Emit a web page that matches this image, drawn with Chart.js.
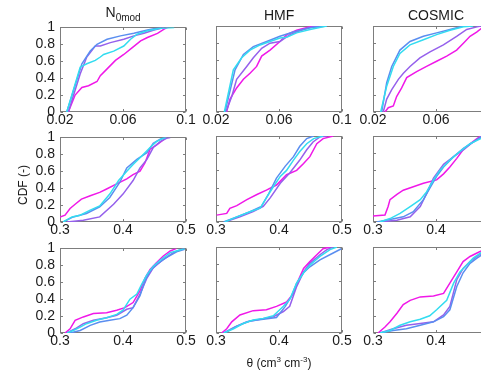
<!DOCTYPE html>
<html>
<head>
<meta charset="utf-8">
<script src="https://cdn.jsdelivr.net/npm/chart.js@4/dist/chart.umd.min.js"></script>
<style>
  html,body{margin:0;padding:0;background:#fff;}
  #wrap{position:relative;width:481px;height:377px;overflow:hidden;background:#fff;font-family:"Liberation Sans",Arial,sans-serif;color:#1a1a1a;}
  canvas{position:absolute;}
  .lbl{position:absolute;white-space:nowrap;}
</style>
</head>
<body>
<div id="wrap"></div>
<script>
// ---------- data ----------
const columnTitles = ['N', 'HMF', 'COSMIC'];
const yLabel = 'CDF (-)';
const xLabel = 'θ (cm³ cm⁻³)';
const yTicks = [0, 0.2, 0.4, 0.6, 0.8, 1];
const xTicksTop = [0.02, 0.06, 0.1];
const xTicksLow = [0.3, 0.4, 0.5];
const seriesColors = ['#33dcf0', '#5a8ef0', '#9560ec', '#f018e8']; // cyan, blue, violet, magenta

// Row 1 (top), column 1: N0mod
const r1c1_cyan    = [[0.0243,0],[0.0328,0.53],[0.037,0.57],[0.0424,0.61],[0.0456,0.65],[0.0477,0.68],[0.0541,0.72],[0.0605,0.78],[0.0648,0.86],[0.069,0.92],[0.0755,0.96],[0.084,0.99],[0.0925,1]];
const r1c1_blue    = [[0.0243,0],[0.0339,0.57],[0.0392,0.72],[0.0435,0.8],[0.0499,0.86],[0.0584,0.9],[0.0669,0.93],[0.0755,0.97],[0.084,1]];
const r1c1_violet  = [[0.0253,0],[0.0328,0.45],[0.037,0.65],[0.0424,0.78],[0.0456,0.78],[0.052,0.82],[0.0605,0.86],[0.0669,0.9],[0.0733,0.93],[0.0797,0.97],[0.0861,1]];
const r1c1_magenta = [[0.0253,0],[0.0296,0.2],[0.0339,0.29],[0.0381,0.31],[0.0435,0.36],[0.0456,0.43],[0.0499,0.51],[0.0552,0.61],[0.0605,0.68],[0.0659,0.76],[0.0712,0.84],[0.0755,0.88],[0.0819,0.93],[0.0861,0.98],[0.0883,1]];
// Row 1, column 2: HMF
const r1c2_cyan    = [[0.0253,0],[0.031,0.49],[0.0363,0.63],[0.0416,0.72],[0.048,0.78],[0.0543,0.82],[0.0606,0.86],[0.0649,0.87],[0.0712,0.92],[0.0797,0.96],[0.0903,1]];
const r1c2_blue    = [[0.0257,0],[0.0321,0.49],[0.0374,0.67],[0.0437,0.76],[0.0522,0.82],[0.0606,0.88],[0.0691,0.93],[0.0797,0.98],[0.0903,1]];
const r1c2_violet  = [[0.0263,0],[0.03,0.18],[0.0331,0.38],[0.0395,0.53],[0.0437,0.63],[0.049,0.74],[0.0543,0.8],[0.0606,0.82],[0.067,0.9],[0.0755,0.96],[0.0818,0.99],[0.088,1]];
const r1c2_magenta = [[0.0267,0],[0.0289,0.15],[0.0331,0.28],[0.0374,0.38],[0.0416,0.45],[0.0458,0.53],[0.049,0.65],[0.0543,0.72],[0.0606,0.82],[0.0649,0.9],[0.0712,0.95],[0.0797,0.99],[0.0839,1]];
// Row 1, column 3: COSMIC
const r1c3_cyan    = [[0.0249,0],[0.0287,0.3],[0.0329,0.53],[0.0371,0.68],[0.0435,0.78],[0.052,0.84],[0.0604,0.9],[0.0689,0.95],[0.0774,0.99],[0.0837,1]];
const r1c3_blue    = [[0.0255,0],[0.0287,0.34],[0.0319,0.53],[0.0371,0.72],[0.0435,0.82],[0.052,0.88],[0.0604,0.92],[0.0689,0.96],[0.0774,1]];
const r1c3_violet  = [[0.0265,0],[0.0287,0.15],[0.0319,0.26],[0.0361,0.38],[0.0393,0.45],[0.0435,0.53],[0.0498,0.63],[0.0562,0.7],[0.0647,0.78],[0.0731,0.88],[0.0795,0.96],[0.086,0.99],[0.0886,1]];
const r1c3_magenta = [[0.0276,0],[0.0297,0.05],[0.0329,0.07],[0.035,0.18],[0.0382,0.28],[0.0414,0.4],[0.0477,0.47],[0.054,0.53],[0.0604,0.59],[0.0668,0.65],[0.0731,0.72],[0.0774,0.8],[0.0816,0.88],[0.0858,0.93],[0.0886,0.97],[0.093,1]];

// Row 2 (middle), column 1
const r2c1_cyan    = [[0.305,0],[0.319,0.06],[0.332,0.08],[0.348,0.14],[0.363,0.19],[0.379,0.33],[0.393,0.49],[0.406,0.6],[0.416,0.68],[0.427,0.76],[0.443,0.88],[0.453,0.95],[0.464,0.99],[0.469,1]];
const r2c1_blue    = [[0.305,0],[0.321,0.06],[0.342,0.1],[0.363,0.18],[0.379,0.29],[0.395,0.47],[0.406,0.64],[0.422,0.74],[0.438,0.82],[0.448,0.93],[0.459,0.98],[0.467,1]];
const r2c1_violet  = [[0.311,0],[0.337,0.02],[0.363,0.06],[0.385,0.21],[0.4,0.33],[0.416,0.49],[0.427,0.64],[0.438,0.74],[0.448,0.88],[0.459,0.95],[0.469,0.99],[0.475,1]];
const r2c1_magenta = [[0.3,0.06],[0.308,0.08],[0.316,0.16],[0.324,0.21],[0.334,0.27],[0.348,0.31],[0.363,0.35],[0.374,0.39],[0.39,0.45],[0.406,0.51],[0.416,0.56],[0.427,0.6],[0.435,0.7],[0.443,0.86],[0.453,0.91],[0.464,0.97],[0.469,1]];
// Row 2, column 2
const r2c2_cyan    = [[0.314,0],[0.333,0.06],[0.354,0.12],[0.37,0.16],[0.38,0.28],[0.391,0.41],[0.402,0.53],[0.412,0.6],[0.423,0.72],[0.433,0.82],[0.444,0.91],[0.455,0.97],[0.47,1]];
const r2c2_blue    = [[0.312,0],[0.333,0.06],[0.354,0.12],[0.372,0.18],[0.383,0.32],[0.396,0.51],[0.41,0.65],[0.423,0.76],[0.433,0.88],[0.444,0.97],[0.455,1]];
const r2c2_violet  = [[0.314,0],[0.338,0.06],[0.359,0.12],[0.375,0.18],[0.386,0.28],[0.402,0.45],[0.417,0.57],[0.433,0.72],[0.444,0.84],[0.454,0.93],[0.465,0.99],[0.476,1]];
const r2c2_magenta = [[0.301,0.08],[0.317,0.1],[0.322,0.16],[0.333,0.19],[0.349,0.26],[0.365,0.32],[0.38,0.37],[0.396,0.43],[0.412,0.55],[0.428,0.6],[0.439,0.68],[0.449,0.76],[0.46,0.91],[0.47,0.97],[0.486,1]];
// Row 2, column 3
const r2c3_cyan    = [[0.311,0],[0.327,0.04],[0.343,0.1],[0.359,0.18],[0.375,0.26],[0.385,0.35],[0.396,0.49],[0.406,0.6],[0.422,0.72],[0.438,0.82],[0.454,0.91],[0.471,0.97],[0.485,1]];
const r2c3_blue    = [[0.306,0],[0.327,0.03],[0.348,0.06],[0.364,0.12],[0.38,0.26],[0.39,0.39],[0.401,0.53],[0.412,0.64],[0.428,0.76],[0.444,0.86],[0.459,0.93],[0.471,0.99],[0.478,1]];
const r2c3_violet  = [[0.308,0],[0.338,0.02],[0.359,0.06],[0.375,0.18],[0.385,0.33],[0.396,0.51],[0.412,0.67],[0.428,0.76],[0.444,0.84],[0.459,0.93],[0.471,0.98],[0.48,1]];
const r2c3_magenta = [[0.3,0.07],[0.319,0.08],[0.324,0.18],[0.327,0.26],[0.338,0.32],[0.348,0.37],[0.364,0.41],[0.38,0.45],[0.401,0.49],[0.412,0.56],[0.422,0.64],[0.433,0.74],[0.443,0.84],[0.454,0.91],[0.465,0.97],[0.471,1]];

// Row 3 (bottom), column 1
const r3c1_cyan    = [[0.311,0],[0.321,0.03],[0.332,0.07],[0.342,0.11],[0.358,0.15],[0.374,0.18],[0.39,0.22],[0.4,0.27],[0.411,0.4],[0.422,0.46],[0.43,0.58],[0.438,0.69],[0.448,0.79],[0.459,0.86],[0.475,0.95],[0.49,0.98],[0.498,1]];
const r3c1_blue    = [[0.316,0],[0.332,0.03],[0.348,0.09],[0.363,0.13],[0.379,0.15],[0.395,0.17],[0.406,0.21],[0.416,0.3],[0.427,0.44],[0.435,0.62],[0.443,0.73],[0.453,0.81],[0.469,0.89],[0.485,0.96],[0.498,0.99]];
const r3c1_violet  = [[0.311,0],[0.324,0.05],[0.337,0.11],[0.353,0.15],[0.374,0.18],[0.39,0.21],[0.406,0.28],[0.416,0.3],[0.427,0.46],[0.438,0.65],[0.448,0.77],[0.464,0.87],[0.48,0.95],[0.496,1]];
const r3c1_magenta = [[0.308,0],[0.316,0.05],[0.324,0.15],[0.337,0.19],[0.353,0.23],[0.374,0.24],[0.39,0.27],[0.403,0.3],[0.416,0.36],[0.427,0.5],[0.435,0.65],[0.443,0.75],[0.453,0.83],[0.464,0.91],[0.475,0.97],[0.485,1]];
// Row 3, column 2
const r3c2_cyan    = [[0.312,0],[0.328,0.05],[0.343,0.11],[0.359,0.15],[0.375,0.17],[0.391,0.2],[0.407,0.31],[0.417,0.39],[0.428,0.58],[0.439,0.7],[0.449,0.79],[0.465,0.89],[0.481,0.97],[0.492,1]];
const r3c2_blue    = [[0.314,0],[0.333,0.08],[0.354,0.14],[0.375,0.16],[0.396,0.18],[0.41,0.31],[0.42,0.43],[0.428,0.58],[0.439,0.7],[0.449,0.77],[0.465,0.85],[0.486,0.93],[0.499,0.98]];
const r3c2_violet  = [[0.312,0],[0.33,0.07],[0.349,0.13],[0.37,0.16],[0.391,0.19],[0.407,0.25],[0.417,0.31],[0.428,0.54],[0.439,0.71],[0.449,0.81],[0.465,0.91],[0.476,0.97],[0.486,1]];
const r3c2_magenta = [[0.309,0],[0.317,0.05],[0.325,0.13],[0.338,0.21],[0.359,0.26],[0.38,0.27],[0.396,0.31],[0.412,0.36],[0.423,0.46],[0.431,0.62],[0.439,0.75],[0.449,0.83],[0.46,0.91],[0.47,0.98],[0.481,1]];
// Row 3, column 3
const r3c3_cyan    = [[0.311,0],[0.327,0.03],[0.343,0.09],[0.359,0.13],[0.375,0.16],[0.39,0.2],[0.401,0.27],[0.417,0.38],[0.428,0.58],[0.438,0.71],[0.449,0.79],[0.459,0.87],[0.471,0.93],[0.485,0.98],[0.495,1]];
const r3c3_blue    = [[0.311,0],[0.332,0.03],[0.353,0.05],[0.375,0.09],[0.396,0.13],[0.412,0.19],[0.422,0.27],[0.433,0.54],[0.443,0.7],[0.454,0.81],[0.465,0.87],[0.471,0.9],[0.487,0.97],[0.498,1]];
const r3c3_violet  = [[0.311,0],[0.332,0.05],[0.353,0.09],[0.375,0.11],[0.396,0.13],[0.412,0.21],[0.422,0.31],[0.433,0.62],[0.443,0.75],[0.454,0.83],[0.465,0.89],[0.471,0.92],[0.486,0.97],[0.496,1]];
const r3c3_magenta = [[0.308,0],[0.319,0.07],[0.327,0.13],[0.338,0.23],[0.348,0.33],[0.359,0.38],[0.375,0.42],[0.396,0.43],[0.412,0.46],[0.422,0.58],[0.433,0.71],[0.443,0.83],[0.454,0.89],[0.465,0.93],[0.471,0.95],[0.485,0.99],[0.49,1]];

const panels = [
  [[r1c1_cyan,r1c1_blue,r1c1_violet,r1c1_magenta],[r1c2_cyan,r1c2_blue,r1c2_violet,r1c2_magenta],[r1c3_cyan,r1c3_blue,r1c3_violet,r1c3_magenta]],
  [[r2c1_cyan,r2c1_blue,r2c1_violet,r2c1_magenta],[r2c2_cyan,r2c2_blue,r2c2_violet,r2c2_magenta],[r2c3_cyan,r2c3_blue,r2c3_violet,r2c3_magenta]],
  [[r3c1_cyan,r3c1_blue,r3c1_violet,r3c1_magenta],[r3c2_cyan,r3c2_blue,r3c2_violet,r3c2_magenta],[r3c3_cyan,r3c3_blue,r3c3_violet,r3c3_magenta]]
];

// ---------- layout ----------
const colLeft = [60, 216, 373];
const rowTop = [26, 136, 247];
const plotW = 126, plotH = 86;
const padL = 50, padT = 12, padR = 12, padB = 22;
const FONT = '"Liberation Sans", Arial, sans-serif';

const boxPlugin = {
  id: 'matlabBox',
  beforeDatasetsDraw(chart) {
    const {ctx, chartArea: a, scales} = chart;
    ctx.save();
    ctx.strokeStyle = '#7d7d7d';
    ctx.lineWidth = 1;
    const L = Math.round(a.left) + 0.5, T = Math.round(a.top) + 0.5;
    const R = Math.round(a.right) - 0.5, B = Math.round(a.bottom) - 0.5;
    ctx.strokeRect(L, T, R - L, B - T);
    const tl = 2.5;
    ctx.beginPath();
    scales.x.ticks.forEach(t => {
      const px = Math.round(scales.x.getPixelForValue(t.value)) + 0.5;
      ctx.moveTo(px, B); ctx.lineTo(px, B - tl);
      ctx.moveTo(px, T); ctx.lineTo(px, T + tl);
    });
    scales.y.ticks.forEach(t => {
      const py = Math.round(scales.y.getPixelForValue(t.value)) + 0.5;
      ctx.moveTo(L, py); ctx.lineTo(L + tl, py);
      ctx.moveTo(R, py); ctx.lineTo(R - tl, py);
    });
    ctx.stroke();
    ctx.restore();
  }
};

const wrap = document.getElementById('wrap');
const fmt = v => String(+v.toFixed(2));

for (let r = 0; r < 3; r++) {
  for (let c = 0; c < 3; c++) {
    const cv = document.createElement('canvas');
    const w = padL + plotW + padR, h = padT + plotH + padB;
    cv.width = w; cv.height = h;
    cv.style.width = w + 'px'; cv.style.height = h + 'px';
    cv.style.left = (colLeft[c] - padL) + 'px';
    cv.style.top = (rowTop[r] - padT) + 'px';
    wrap.appendChild(cv);
    const xt = r === 0 ? xTicksTop : xTicksLow;
    new Chart(cv, {
      type: 'scatter',
      data: {
        datasets: panels[r][c].map((pts, i) => ({
          data: pts.map(p => ({x: p[0], y: p[1]})),
          showLine: true,
          borderColor: seriesColors[i],
          backgroundColor: seriesColors[i],
          borderWidth: 1.5,
          pointRadius: 0,
          tension: 0
        }))
      },
      options: {
        responsive: false,
        animation: false,
        devicePixelRatio: 1,
        layout: {autoPadding: false, padding: {top: padT, right: padR, left: 0, bottom: 0}},
        plugins: {legend: {display: false}, tooltip: {enabled: false}},
        scales: {
          x: {
            type: 'linear', min: xt[0], max: xt[2],
            afterBuildTicks: s => { s.ticks = xt.map(v => ({value: v})); },
            afterFit: s => { s.height = padB; },
            grid: {display: false, drawTicks: false},
            border: {display: false},
            ticks: {padding: 0, color: '#1a1a1a', font: {family: FONT, size: 14}, callback: v => fmt(v), maxRotation: 0, autoSkip: false}
          },
          y: {
            type: 'linear', min: 0, max: 1,
            afterBuildTicks: s => { s.ticks = yTicks.map(v => ({value: v})); },
            afterFit: s => { s.width = padL; },
            grid: {display: false, drawTicks: false},
            border: {display: false},
            ticks: {display: c === 0, padding: 5, color: '#1a1a1a', font: {family: FONT, size: 14}, callback: v => fmt(v), autoSkip: false}
          }
        }
      },
      plugins: [boxPlugin]
    });
  }
}

// ---------- text labels ----------
function addLabel(html, css) {
  const d = document.createElement('div');
  d.className = 'lbl';
  d.innerHTML = html;
  Object.assign(d.style, css);
  wrap.appendChild(d);
  return d;
}
const centers = colLeft.map(l => l + plotW / 2);
// column titles
const t0 = addLabel(columnTitles[0] + '<span style="font-size:10px;position:relative;top:4px;">0mod</span>', {fontSize: '14px', top: '4px'});
t0.style.left = (centers[0] - t0.offsetWidth / 2) + 'px';
for (let c = 1; c < 3; c++) {
  const t = addLabel(columnTitles[c], {fontSize: '14px', top: '7px'});
  t.style.left = (centers[c] - t.offsetWidth / 2) + 'px';
}
// y label
const yl = addLabel(yLabel, {fontSize: '12px'});
yl.style.left = (23 - yl.offsetWidth / 2) + 'px';
yl.style.top = (185 - yl.offsetHeight / 2) + 'px';
yl.style.transform = 'rotate(-90deg)';
// x label
const xl = addLabel('θ (cm<sup style="font-size:8px">3</sup> cm<sup style="font-size:8px">-3</sup>)', {fontSize: '12px', top: '355px'});
xl.style.left = (centers[1] - xl.offsetWidth / 2) + 'px';
</script>
</body>
</html>
